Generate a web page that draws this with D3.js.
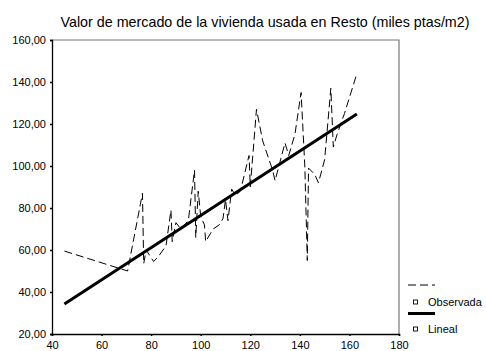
<!DOCTYPE html>
<html><head><meta charset="utf-8">
<script src="https://cdn.jsdelivr.net/npm/d3@7"></script>
<style>body{margin:0;background:#fff}svg{display:block}text{font-family:"Liberation Sans",Arial,sans-serif;fill:#000}</style>
</head><body><svg id="c" width="486" height="351"></svg>
<script>
const title = "Valor de mercado de la vivienda usada en Resto (miles ptas/m2)";
const obsX = [45, 70.5, 76.5, 77, 78, 81, 83, 86, 88, 88.5, 90, 92, 95, 97.5, 98, 99, 100, 101.5, 102, 104, 105, 107.5, 109, 110, 111, 112.5, 114, 116, 119.5, 120, 122.5, 125, 129, 130, 132, 134, 135.5, 138, 140.5, 142, 143, 143.5, 146, 147.5, 150, 152.5, 153.5, 155, 158, 163];
const obsY = [59.5, 50, 87, 53.5, 60, 54.5, 57, 62, 79, 64, 73, 70, 74, 98, 66, 88, 76, 72, 64, 68, 70, 72, 75, 84, 74, 89, 86, 88, 105, 90, 127, 112, 98, 93, 102, 111, 105, 115, 135, 100, 55, 99, 96, 92, 103, 137, 109, 115, 125, 144];
const linX = [45, 163];
const linY = [34.3, 124.8];
const xTicks = [40, 60, 80, 100, 120, 140, 160, 180];
const yTicks = [20, 40, 60, 80, 100, 120, 140, 160];
const legendLabels = ["Observada", "Lineal"];

const svg = d3.select("#c");
const x = d3.scaleLinear().domain([40, 180]).range([52, 399]);
const y = d3.scaleLinear().domain([20, 160]).range([334, 40]);
const fmt = d => d3.format(".2f")(d).replace(".", ",");

svg.append("text").attr("x", 265).attr("y", 26.5).attr("text-anchor", "middle")
  .style("font-size", "14.3px").text(title);

// frame top/right
svg.append("path").attr("d", `M${x(40)},${y(160)}H${x(180)}V${y(20)}`)
  .attr("fill", "none").attr("stroke", "#777").attr("stroke-width", 1.2);

const gx = svg.append("g").attr("transform", `translate(0,${y(20)})`)
  .call(d3.axisBottom(x).tickValues(xTicks).tickSize(2).tickPadding(5).tickFormat(d3.format("d")));
const gy = svg.append("g").attr("transform", `translate(${x(40)},0)`)
  .call(d3.axisLeft(y).tickValues(yTicks).tickSize(2).tickPadding(4).tickFormat(fmt));
[gx, gy].forEach(g => {
  g.select(".domain").attr("stroke", "#000").attr("stroke-width", 1.3);
  g.selectAll(".tick line").attr("stroke", "#000").attr("stroke-width", 1.5);
  g.selectAll(".tick text").style("font-size", "11px").style("font-family", '"Liberation Sans",Arial,sans-serif').attr("fill", "#000");
});

const obs = obsX.map((d, i) => [d, obsY[i]]);
const lin = linX.map((d, i) => [d, linY[i]]);
const line = d3.line().x(d => x(d[0])).y(d => y(d[1]));
svg.append("path").datum(obs).attr("d", line).attr("fill", "none")
  .attr("stroke", "#000").attr("stroke-width", 1).attr("stroke-dasharray", "8,4");
svg.append("path").datum(lin).attr("d", line).attr("fill", "none")
  .attr("stroke", "#000").attr("stroke-width", 3);

// legend
const lg = svg.append("g");
const rows = [{y: 285, dash: "8,4", w: 1, ty: 302}, {y: 313.5, dash: null, w: 3, ty: 329}];
rows.forEach((r, i) => {
  lg.append("line").attr("x1", 408).attr("x2", 435).attr("y1", r.y).attr("y2", r.y)
    .attr("stroke", "#000").attr("stroke-width", r.w).attr("stroke-dasharray", r.dash);
  lg.append("rect").attr("x", 413.5).attr("y", r.ty - 2).attr("width", 4).attr("height", 4)
    .attr("fill", "#fff").attr("stroke", "#000").attr("stroke-width", 0.9);
  lg.append("text").attr("x", 428).attr("y", r.ty + 4).style("font-size", "11px").text(legendLabels[i]);
});
</script></body></html>
